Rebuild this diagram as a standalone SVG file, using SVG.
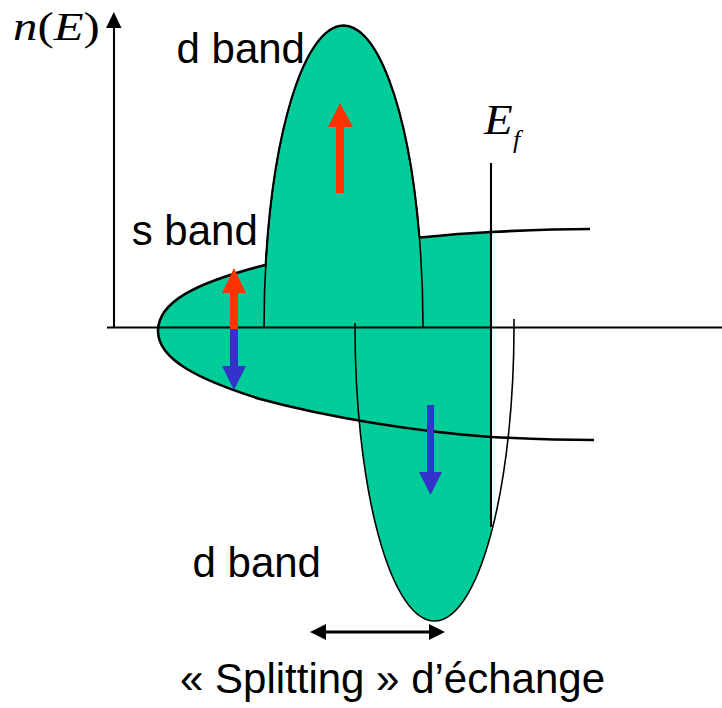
<svg xmlns="http://www.w3.org/2000/svg" width="722" height="708" viewBox="0 0 722 708">
<style>
.fill{fill:#00CC99;stroke:none}
.thick{fill:none;stroke:#000;stroke-width:2.6}
.med{fill:none;stroke:#000;stroke-width:2.1}
.thin{fill:none;stroke:#000;stroke-width:1.6}
.lbl{font-family:"Liberation Sans",Arial,sans-serif;font-size:42px;fill:#000}
.math{font-family:"Liberation Serif","Times New Roman",serif;fill:#000}
.red{fill:#FF3300}
.blue{fill:#3333CC}
</style>
<defs>
<clipPath id="belowEf"><rect x="0" y="0" width="491" height="708"/></clipPath>
</defs>
<rect width="722" height="708" fill="#fff"/>

<g id="s-band-fill">
<path class="fill" d="M158,331 C158,302 195,283 265,265 C330,249 420,237 491,232 L491,437 C420,432 330,418 260,399 C200,380 158,360 158,331 Z"/>
</g>
<g id="d-band-up-fill">
<path class="fill" d="M264,327 A79.5,301 0 0 1 423,327 Z"/>
</g>
<g id="d-band-down-fill">
<path class="fill" clip-path="url(#belowEf)" d="M355,327 A79.5,294 0 0 0 514,327 Z"/>
</g>

<g id="axes">
<line class="med" x1="107" y1="327.5" x2="722" y2="327.5"/>
<line class="med" x1="114" y1="328" x2="114" y2="26"/>
<polygon points="106,28 121.5,28 113.8,12" fill="#000"/>
</g>

<g id="s-band">
<path class="thick" d="M158,331 C158,302 195,283 265,265"/>
<path class="thick" d="M420,237.5 C445,235 470,233 491,232 C530,230 560,229 590,229"/>
<path class="thick" d="M158,331 C158,360 200,380 260,399 C330,418 420,432 491,437 C530,439 560,440 594,440"/>
</g>

<g id="d-band-up">
<path class="thin" d="M264,327 A79.5,301 0 0 1 423,327 L423,323"/>
<path class="med" d="M265.6,266 A79.5,301 0 0 1 419.4,237"/>
</g>

<g id="d-band-down">
<path class="thin" d="M355,323 L355,327 A79.5,294 0 0 0 514,327 L514,319"/>
</g>

<g id="fermi-level">
<line class="med" x1="491" y1="163" x2="491" y2="527"/>
</g>

<g id="spin-arrows">
<polygon class="red" points="336,193 344,193 344,127 353,127 340,103 328,127 336,127"/>
<polygon class="red" points="230,330 238,330 238,293 246,293 234,268 222,293 230,293"/>
<polygon class="blue" points="230,329 238,329 238,366 246,366 234,390 222,366 230,366"/>
<polygon class="blue" points="427,405 434,405 434,472 442,472 430.5,495 419,472 427,472"/>
</g>

<g id="splitting-arrow">
<line x1="322" y1="632" x2="433" y2="632" stroke="#000" stroke-width="3"/>
<polygon points="310,632 326,624 326,640" fill="#000"/>
<polygon points="445,632 429,624 429,640" fill="#000"/>
</g>

<g id="labels">
<text class="math" font-size="40" transform="translate(13,40) scale(1.22,1)"><tspan font-style="italic">n</tspan>(<tspan font-style="italic">E</tspan>)</text>
<text class="math" font-size="42" font-style="italic" transform="translate(484,134) scale(1.12,1)">E</text>
<text class="math" font-size="26" font-style="italic" x="513" y="148">f</text>
<text class="lbl" x="176.5" y="63">d band</text>
<text class="lbl" x="131.7" y="245">s band</text>
<text class="lbl" x="192.5" y="577">d band</text>
<text class="lbl" x="180" y="693">« Splitting » d’échange</text>
</g>
</svg>
